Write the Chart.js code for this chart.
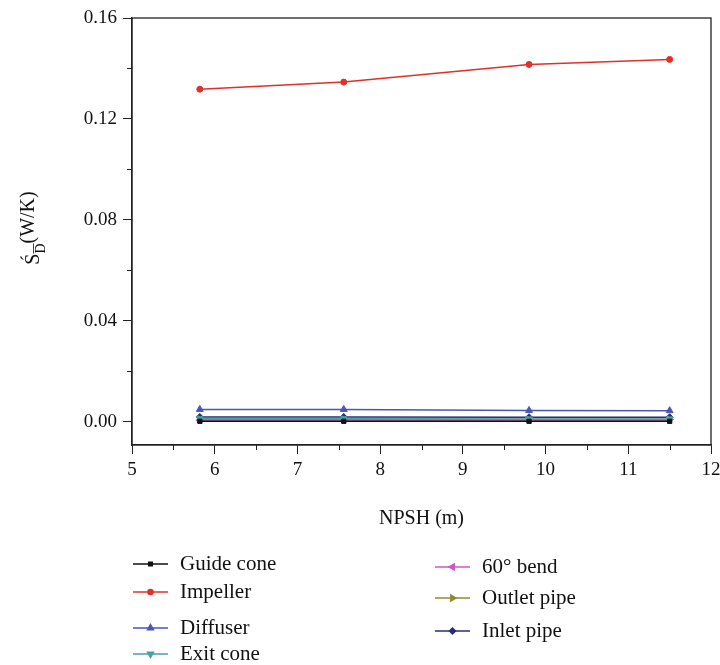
<!DOCTYPE html>
<html>
<head>
<meta charset="utf-8">
<script src="https://cdn.jsdelivr.net/npm/chart.js@4.4.1/dist/chart.umd.min.js"></script>
<style>
  html, body { margin: 0; padding: 0; background: #fff; }
  #wrap { width: 720px; height: 665px; position: relative; }
</style>
</head>
<body>
<div id="wrap"><canvas id="sdChart" width="720" height="665"></canvas></div>
<script>
// NPSH values (m)
const npsh = [5.82, 7.56, 9.8, 11.5];

// Entropy production per component (W/K)
const guideCone  = [0.0002, 0.0002, 0.0002, 0.0002];
const impeller   = [0.1318, 0.1346, 0.1416, 0.1436];
const diffuser   = [0.0049, 0.0049, 0.0045, 0.0044];
const exitCone   = [0.0012, 0.0012, 0.0011, 0.0011];
const bend60     = [0.0006, 0.0006, 0.0006, 0.0006];
const outletPipe = [0.0010, 0.0010, 0.0009, 0.0009];
const inletPipe  = [0.0019, 0.0019, 0.0018, 0.0018];

const yTicks = [0, 0.04, 0.08, 0.12, 0.16];
const xTicks = [5, 6, 7, 8, 9, 10, 11, 12];

const serif = '"Liberation Serif", "DejaVu Serif", serif';

function series(label, values, color, style, rot, radius) {
    return {
        label: label,
        data: values.map((v, i) => ({ x: npsh[i], y: v })),
        borderColor: color,
        backgroundColor: color,
        borderWidth: 1.5,
        pointStyle: style,
        rotation: rot,
        pointRadius: radius,
        pointBorderWidth: 1,
        tension: 0
    };
}

const datasets = [
    series('Guide cone', guideCone, '#111111', 'rect', 0, 3),
    series('Impeller', impeller, '#e0302a', 'circle', 0, 3),
    series('Diffuser', diffuser, '#4c55b4', 'triangle', 0, 4),
    series('Exit cone', exitCone, '#45a3a0', 'triangle', 180, 4),
    series('60° bend', bend60, '#d453c4', 'triangle', 270, 4),
    series('Outlet pipe', outletPipe, '#8f8b32', 'triangle', 90, 4),
    series('Inlet pipe', inletPipe, '#2b2b78', 'rectRot', 0, 3.5)
];

// legend slots (two columns)
const legendSlots = [
    { x: 133, y: 564 }, { x: 133, y: 592 }, { x: 133, y: 628 }, { x: 133, y: 654 },
    { x: 435, y: 567 }, { x: 435, y: 598 }, { x: 435, y: 631 }
];

const decorations = {
    id: 'decorations',
    afterDraw(chart) {
        const ctx = chart.ctx;
        const a = chart.chartArea;
        const xs = chart.scales.x, ys = chart.scales.y;
        ctx.save();
        // frame
        ctx.strokeStyle = '#222';
        ctx.lineWidth = 1.3;
        ctx.strokeRect(a.left, a.top, a.right - a.left, a.bottom - a.top);
        // minor ticks
        ctx.lineWidth = 1;
        ctx.beginPath();
        for (let v = 5.5; v < 12; v += 1) {
            const px = Math.round(xs.getPixelForValue(v)) + 0.5;
            ctx.moveTo(px, a.bottom); ctx.lineTo(px, a.bottom + 5);
        }
        for (let v = 0.02; v < 0.16; v += 0.04) {
            const py = Math.round(ys.getPixelForValue(v)) + 0.5;
            ctx.moveTo(a.left, py); ctx.lineTo(a.left - 5, py);
        }
        ctx.stroke();

        // x title
        ctx.fillStyle = '#111';
        ctx.font = '20px ' + serif;
        ctx.textAlign = 'center';
        ctx.textBaseline = 'middle';
        ctx.fillText('NPSH (m)', (a.left + a.right) / 2, 519);

        // y title: Ś_D (W/K)
        ctx.save();
        ctx.translate(32, 228);
        ctx.rotate(-Math.PI / 2);
        ctx.textAlign = 'left';
        ctx.textBaseline = 'alphabetic';
        ctx.font = '20px ' + serif;
        const wS = ctx.measureText('Ś').width;
        ctx.font = '14px ' + serif;
        const wD = ctx.measureText('D').width;
        ctx.font = '20px ' + serif;
        const wU = ctx.measureText('(W/K)').width;
        let x0 = -(wS + wD + wU) / 2;
        ctx.fillText('Ś', x0, 7);
        ctx.font = '14px ' + serif;
        ctx.fillText('D', x0 + wS, 13);
        ctx.lineWidth = 0.8;
        ctx.strokeStyle = '#111';
        ctx.beginPath();
        ctx.moveTo(x0 + wS, 1.5); ctx.lineTo(x0 + wS + wD, 1.5);
        ctx.stroke();
        ctx.font = '20px ' + serif;
        ctx.fillText('(W/K)', x0 + wS + wD, 2);
        ctx.restore();

        // legend
        chart.data.datasets.forEach((ds, i) => {
            const s = legendSlots[i];
            ctx.strokeStyle = ds.borderColor;
            ctx.fillStyle = ds.backgroundColor;
            ctx.lineWidth = 1.5;
            ctx.beginPath();
            ctx.moveTo(s.x, s.y); ctx.lineTo(s.x + 35, s.y);
            ctx.stroke();
            Chart.helpers.drawPoint(ctx, {
                pointStyle: ds.pointStyle,
                rotation: ds.rotation,
                radius: ds.pointRadius * 0.85,
                borderWidth: 1
            }, s.x + 17.5, s.y);
            ctx.fillStyle = '#111';
            ctx.font = '21px ' + serif;
            ctx.textAlign = 'left';
            ctx.textBaseline = 'middle';
            ctx.fillText(ds.label, s.x + 47, s.y);
        });
        ctx.restore();
    }
};

new Chart(document.getElementById('sdChart').getContext('2d'), {
    type: 'line',
    data: { datasets: datasets },
    options: {
        responsive: false,
        animation: false,
        layout: { padding: { top: 18, right: 9, left: 0, bottom: 0 } },
        plugins: { legend: { display: false }, tooltip: { enabled: false } },
        scales: {
            x: {
                type: 'linear',
                min: 5, max: 12,
                afterFit: s => { s.height = 220; s.paddingLeft = 0; s.paddingRight = 0; },
                afterBuildTicks: s => { s.ticks = xTicks.map(v => ({ value: v })); },
                ticks: { font: { family: serif, size: 19 }, color: '#111', padding: 5, maxRotation: 0 },
                grid: { drawOnChartArea: false, drawTicks: true, tickLength: 9, color: '#222' },
                border: { display: true, color: '#222', width: 1.3 }
            },
            y: {
                type: 'linear',
                min: -0.0092, max: 0.16,
                afterFit: s => { s.width = 132; s.paddingTop = 0; s.paddingBottom = 0; },
                afterBuildTicks: s => { s.ticks = yTicks.map(v => ({ value: v })); },
                ticks: { font: { family: serif, size: 19 }, color: '#111', padding: 6,
                         callback: v => v.toFixed(2) },
                grid: { drawOnChartArea: false, drawTicks: true, tickLength: 9, color: '#222' },
                border: { display: true, color: '#222', width: 1.3 }
            }
        }
    },
    plugins: [decorations]
});
</script>
</body>
</html>
